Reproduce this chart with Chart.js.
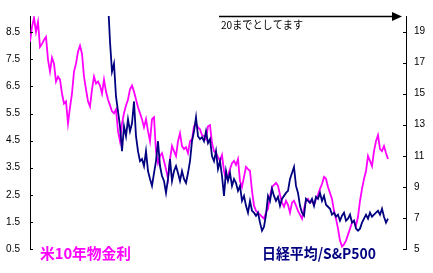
<!DOCTYPE html>
<html>
<head>
<meta charset="utf-8">
<script src="https://cdn.jsdelivr.net/npm/chart.js@4/dist/chart.umd.min.js"></script>
<style>
html,body{margin:0;padding:0;background:#fff;}
canvas{display:block;}
</style>
</head>
<body>
<canvas id="c" width="433" height="273"></canvas>
<script>
// US 10-year yield (left axis), one reading per period
const usYield = [
8.15,8.70,9.03,8.51,8.88,7.96,8.07,8.22,8.33,7.49,
7.05,7.56,7.34,6.68,6.86,6.75,6.24,5.87,5.95,5.14,
5.73,6.24,7.05,7.34,7.78,8.00,7.71,6.86,6.39,5.95,
5.76,6.39,6.86,6.61,6.68,6.53,6.24,6.75,6.31,6.02,
5.80,5.58,5.51,5.65,4.85,4.48,5.14,5.51,5.80,6.02,
6.39,6.53,6.31,6.02,5.73,5.51,5.29,4.99,5.29,4.85,
4.48,5.29,5.36,4.11,3.67,3.93,4.04,3.75,3.45,3.09,
3.82,4.30,4.11,3.93,4.48,4.77,4.30,4.19,4.26,4.04,
4.48,4.55,5.03,5.14,4.99,4.92,4.70,4.66,4.55,5.03,
5.07,4.41,4.11,4.04,3.89,3.75,3.97,3.38,3.09,3.20,
3.45,3.67,3.75,3.60,3.82,3.01,2.79,3.16,3.53,3.45,
3.38,2.65,2.10,1.91,1.84,1.77,1.69,1.62,1.84,1.99,
2.43,2.79,2.87,2.94,2.83,2.50,2.21,2.06,2.28,2.13,
1.84,2.21,2.28,2.10,1.91,1.77,1.62,1.99,2.28,2.35,
2.21,2.28,2.13,2.35,2.50,2.72,2.90,3.16,3.09,2.79,
2.57,2.35,1.91,1.62,1.25,0.81,0.59,0.67,0.81,1.03,
1.25,1.47,1.55,1.36,1.69,2.28,2.72,3.09,3.38,3.93,
3.75,3.56,4.11,4.48,4.70,4.19,4.11,4.30,4.04,3.82
];
// Nikkei / S&P500 ratio (right axis), starts later
const ratioStart = 39;
const nikkeiSp = [
21.0,18.34,16.42,16.93,14.82,13.86,12.90,11.30,12.90,12.26,
13.35,12.58,13.09,14.50,12.26,11.30,10.66,10.79,10.34,11.30,
10.02,9.51,9.06,9.89,10.66,11.94,10.34,9.70,9.38,8.61,
9.51,10.79,9.38,10.02,10.34,9.89,9.38,10.02,9.51,9.25,
9.89,10.66,11.94,12.58,13.48,12.26,12.07,12.20,11.94,12.58,
11.81,12.07,10.98,10.66,11.30,10.15,10.66,9.70,8.42,10.02,
9.38,9.89,9.06,9.51,9.25,8.74,9.06,8.10,8.42,7.78,
7.34,8.10,7.46,7.34,7.14,7.34,6.70,6.18,6.44,7.21,
8.42,8.10,8.87,8.42,8.10,8.36,7.78,8.23,8.42,8.61,
8.74,9.51,9.89,10.28,9.06,8.61,7.78,7.34,7.14,8.23,
8.10,7.98,8.23,7.78,8.36,8.23,8.61,8.10,8.42,7.85,
7.72,7.59,7.21,7.34,7.08,7.21,6.82,7.14,7.34,6.82,
6.95,7.21,6.70,6.82,6.31,6.18,6.31,6.70,6.95,7.21,
6.95,7.34,7.08,7.21,7.34,7.46,7.21,7.59,7.08,6.70,
6.95
];
const periodsMax = 188;
const leftTicks = [0.5,1.5,2.5,3.5,4.5,5.5,6.5,7.5,8.5];
const rightTicks = [5,7,9,11,13,15,17,19];
const leftRange = [0.5, 9.1];
const rightRange = [5, 20];
const labelYield = '米10年物金利';
const labelRatio = '日経平均/S&P500';
const noteText = '20までとしてます';

const yieldPts = usYield.map((v,i)=>({x:i, y:v}));
const ratioPts = nikkeiSp.map((v,i)=>({x:ratioStart+i, y:v}));

const tickFont = {family:'"Liberation Sans", Arial, sans-serif', size:10};

function fitText(ctx, text, x, y, w){
  const m = ctx.measureText(text).width;
  ctx.save();
  ctx.translate(x, y);
  ctx.scale(w / m, 1);
  ctx.fillText(text, 0, 0);
  ctx.restore();
}

const decor = {
  id:'decor',
  afterDraw(chart){
    const ctx = chart.ctx, ca = chart.chartArea;
    const L = chart.scales.yL, R = chart.scales.yR;
    ctx.save();
    ctx.strokeStyle = '#000'; ctx.lineWidth = 1;
    L.ticks.forEach(t=>{
      const y = Math.round(L.getPixelForValue(t.value)) + 0.5;
      ctx.beginPath(); ctx.moveTo(ca.left, y); ctx.lineTo(ca.left + 3, y); ctx.stroke();
    });
    R.ticks.forEach(t=>{
      const y = Math.round(R.getPixelForValue(t.value)) + 0.5;
      ctx.beginPath(); ctx.moveTo(ca.right, y); ctx.lineTo(ca.right - 3, y); ctx.stroke();
    });
    // arrow note
    const ay = Math.round(R.getPixelForValue(rightRange[1])) + 0.5;
    ctx.lineWidth = 1.5;
    ctx.beginPath(); ctx.moveTo(ca.left + 189, ay); ctx.lineTo(ca.right - 12, ay); ctx.stroke();
    ctx.fillStyle = '#000';
    ctx.beginPath();
    ctx.moveTo(ca.right - 14, ay - 4.5);
    ctx.lineTo(ca.right - 4, ay);
    ctx.lineTo(ca.right - 14, ay + 4.5);
    ctx.closePath(); ctx.fill();
    ctx.font = '11px "Noto Sans CJK JP", sans-serif';
    ctx.textBaseline = 'alphabetic';
    fitText(ctx, noteText, ca.left + 191, ay + 12, 82);
    // series labels
    ctx.font = 'bold 15px "Noto Sans CJK JP", sans-serif';
    ctx.fillStyle = '#FF00FF';
    fitText(ctx, labelYield, ca.left + 10, ca.bottom + 10, 91);
    ctx.fillStyle = '#000080';
    fitText(ctx, labelRatio, ca.left + 232, ca.bottom + 10, 114);
    ctx.restore();
  }
};

new Chart(document.getElementById('c'), {
  type:'line',
  data:{
    datasets:[
      {label:labelRatio, data:ratioPts, yAxisID:'yR', borderColor:'#000080', borderWidth:1.8, pointRadius:0, tension:0, order:0},
      {label:labelYield, data:yieldPts, yAxisID:'yL', borderColor:'#FF00FF', borderWidth:1.8, pointRadius:0, tension:0, order:1}
    ]
  },
  options:{
    responsive:false, animation:false, devicePixelRatio:1,
    layout:{padding:{top:14, bottom:24, left:0, right:0}},
    plugins:{legend:{display:false}, tooltip:{enabled:false}},
    scales:{
      x:{type:'linear', min:0, max:periodsMax, display:false},
      yL:{
        position:'left', min:leftRange[0], max:leftRange[1],
        grid:{display:true, drawOnChartArea:false, drawTicks:false},
        border:{display:true, color:'#000', width:1},
        ticks:{color:'#000', font:tickFont, padding:10, callback:v=>v.toFixed(1)},
        afterBuildTicks:s=>{s.ticks = leftTicks.map(v=>({value:v}));},
        afterFit:s=>{s.width = 30;}
      },
      yR:{
        position:'right', min:rightRange[0], max:rightRange[1],
        grid:{display:true, drawOnChartArea:false, drawTicks:false},
        border:{display:true, color:'#000', width:1},
        ticks:{color:'#000', font:tickFont, padding:8, callback:v=>String(v)},
        afterBuildTicks:s=>{s.ticks = rightTicks.map(v=>({value:v}));},
        afterFit:s=>{s.width = 27;}
      }
    }
  },
  plugins:[decor]
});
</script>
</body>
</html>
